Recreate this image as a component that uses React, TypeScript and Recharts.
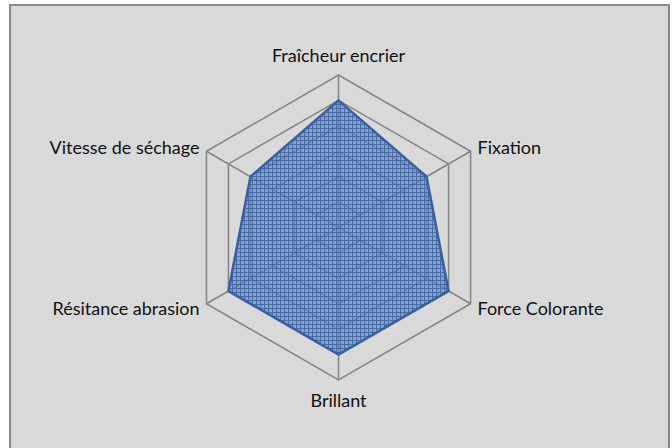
import { RadarChart, Radar, PolarGrid, PolarAngleAxis, PolarRadiusAxis } from 'recharts';

const categories = [
  'Fraîcheur encrier',
  'Fixation',
  'Force Colorante',
  'Brillant',
  'Résitance abrasion',
  'Vitesse de séchage',
];
const scores = [5, 4, 5, 5, 5, 4];
const radiusTicks = [0, 1, 2, 3, 4, 5, 6];

const data = categories.map((name, i) => ({ name, value: scores[i] }));

const CX = 338.5;
const CY = 227.5;

// eslint-disable-next-line @typescript-eslint/no-explicit-any
const AngleTick = (props: any) => {
  const { x, y, payload, textAnchor } = props;
  let dy = 7;
  if (y < CY - 100) dy = -5;
  else if (y > CY + 100) dy = 19;
  return (
    <text
      x={x}
      y={y}
      dy={dy}
      textAnchor={textAnchor}
      fill="#111"
      fontSize={18}
      fontFamily="Lato, 'Open Sans', sans-serif"
    >
      {payload.value}
    </text>
  );
};

export default function App() {
  return (
    <div style={{ position: 'fixed', left: 0, top: 0, width: 672, height: 448, background: '#fff', overflow: 'hidden' }}>
      <div
        style={{
          position: 'absolute',
          left: 9,
          top: 4,
          width: 657,
          height: 470,
          background: '#d9d9d9',
          border: '2px solid #8a8a8a',
        }}
      />
      <div style={{ position: 'absolute', left: 0, top: 0 }}>
        <RadarChart width={672} height={448} data={data} cx={CX} cy={CY} outerRadius={152.5}>
          <defs>
            {/* crosshatch fill, a bit see-through so the grid shows under it */}
            <pattern id="hatch" width="4" height="4" patternUnits="userSpaceOnUse">
              <rect width="4" height="4" fill="#5f82be" fillOpacity={0.66} />
              <rect width="4" height="1" fill="#365d9f" fillOpacity={0.78} />
              <rect y="1" width="1" height="3" fill="#365d9f" fillOpacity={0.78} />
            </pattern>
          </defs>
          <PolarGrid gridType="polygon" stroke="#848484" strokeWidth={1.5} />
          <PolarRadiusAxis domain={[0, 6]} ticks={radiusTicks as any} tickCount={7} tick={false} axisLine={false} />
          <PolarAngleAxis dataKey="name" tick={<AngleTick />} tickLine={false} axisLine={false} />
          <Radar
            dataKey="value"
            stroke="#3a5f9e"
            strokeWidth={2.5}
            fill="url(#hatch)"
            fillOpacity={1}
            isAnimationActive={false}
          />
        </RadarChart>
      </div>
    </div>
  );
}
